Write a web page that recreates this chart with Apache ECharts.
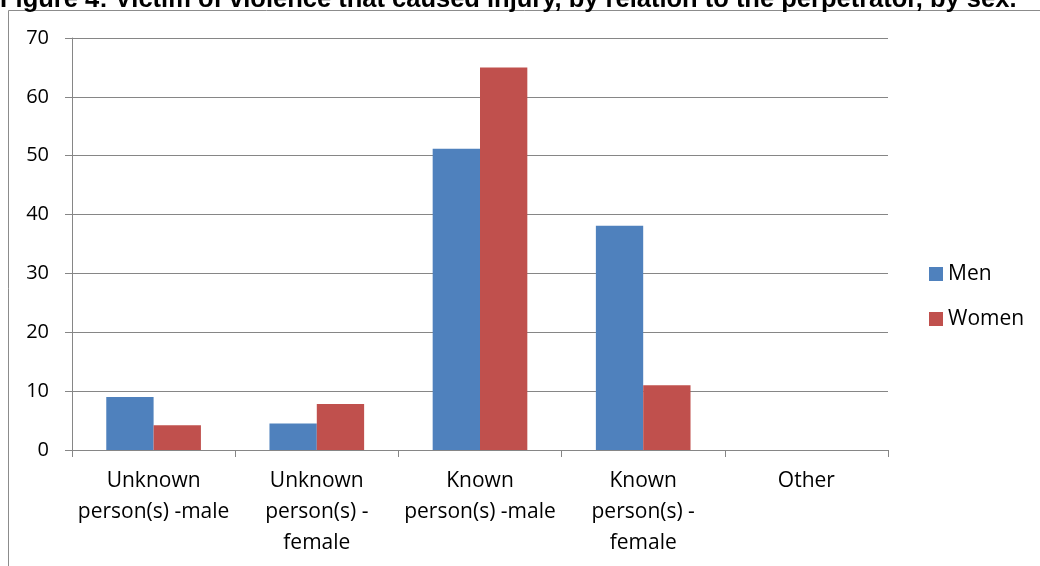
<!DOCTYPE html>
<html><head><meta charset="utf-8">
<script src="https://cdn.jsdelivr.net/npm/echarts@6/dist/echarts.min.js"></script>
<style>html,body{margin:0;padding:0;background:#fff}#c{width:1040px;height:566px}</style>
</head><body><div id="c"></div>
<script>
const categories = ["Unknown\nperson(s) -male", "Unknown\nperson(s) -\nfemale", "Known\nperson(s) -male", "Known\nperson(s) -\nfemale", "Other"];
const men = [9.0, 4.5, 51.2, 38.1, 0];
const women = [4.2, 7.8, 65.0, 11.0, 0];
const yTicks = [0, 10, 20, 30, 40, 50, 60, 70];
const titleText = "Figure 4: Victim of violence that caused injury, by relation to the perpetrator, by sex.";

const chart = echarts.init(document.getElementById('c'));
const font = "'Open Sans', 'Liberation Sans', sans-serif";
chart.setOption({
  animation: false,
  title: { text: titleText, left: 0, top: -13, padding: 0, textStyle: { fontFamily: "'Liberation Sans', Arial, sans-serif", fontWeight: 'bold', fontSize: 25.5, color: '#000' } },
  graphic: [{ type: 'rect', shape: { x: 8.5, y: 10.5, width: 1100, height: 700 }, style: { fill: 'none', stroke: '#8c8c8c', lineWidth: 1 }, z: -1 }],
  grid: { left: 72, right: 152, top: 38, bottom: 116 },
  legend: { orient: 'vertical', left: 924, top: 258, itemWidth: 14, itemHeight: 14, itemGap: 23,
    textStyle: { fontFamily: font, fontSize: 21, lineHeight: 22, color: '#000' }, icon: 'rect', data: ['Men', 'Women'] },
  xAxis: { type: 'category', data: categories,
    axisLine: { lineStyle: { color: '#868686' } },
    axisTick: { show: true, length: 7, lineStyle: { color: '#868686' }, alignWithLabel: false },
    axisLabel: { fontFamily: font, fontSize: 21, color: '#000', lineHeight: 31, margin: 16, interval: 0 } },
  yAxis: { type: 'value', min: 0, max: 70, interval: 10,
    axisLine: { show: true, lineStyle: { color: '#868686' } },
    axisTick: { show: true, length: 7, lineStyle: { color: '#868686' } },
    splitLine: { lineStyle: { color: '#868686' } },
    axisLabel: { fontFamily: font, fontSize: 20, color: '#000', margin: 23,
      formatter: v => yTicks.includes(v) ? String(v) : '' } },
  series: [
    { name: 'Men', type: 'bar', data: men, barGap: '0%', barCategoryGap: '42%', itemStyle: { color: '#4f81bd' } },
    { name: 'Women', type: 'bar', data: women, itemStyle: { color: '#c0504d' } }
  ]
});
</script></body></html>
